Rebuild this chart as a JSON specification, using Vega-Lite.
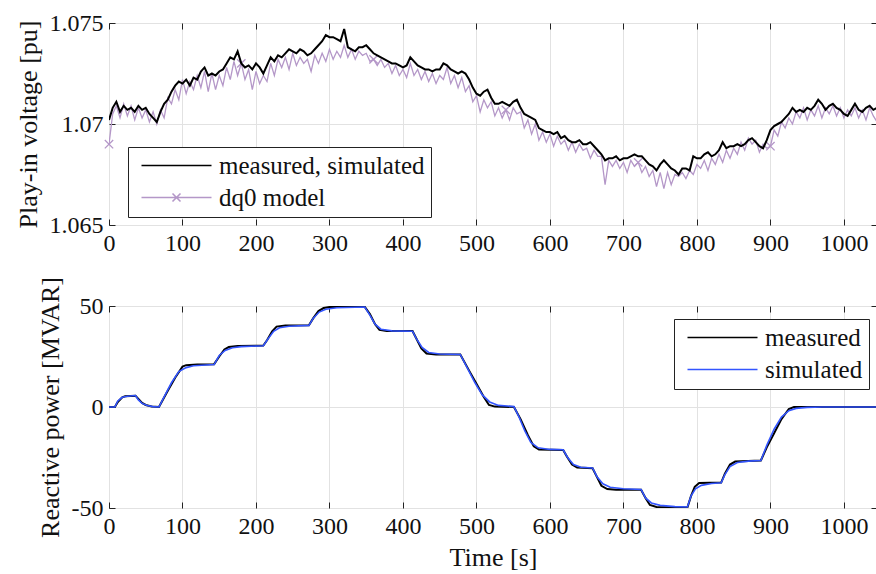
{
  "$schema": "https://vega.github.io/schema/vega-lite/v6.json",
  "background": "white",
  "padding": {"left": 14, "top": 10, "right": 0, "bottom": 4},
  "config": {
    "font": "Liberation Serif",
    "view": {"stroke": "#222222", "strokeWidth": 1},
    "axis": {
      "labelFont": "Liberation Serif", "titleFont": "Liberation Serif",
      "labelFontSize": 24, "titleFontSize": 26, "labelColor": "#111111", "titleColor": "#111111",
      "titleFontWeight": "normal", "domain": false, "gridColor": "#e2e2e2", "gridWidth": 1,
      "tickColor": "#222222", "tickSize": -6, "labelPadding": 12, "labelFlush": false, "labelOverlap": false, "titlePadding": 8
    },
    "legend": {
      "labelFont": "Liberation Serif", "labelFontSize": 25, "labelColor": "#111111", "labelLimit": 0,
      "strokeColor": "#222222", "fillColor": "white", "padding": 6, "cornerRadius": 0,
      "symbolSize": 100, "symbolStrokeWidth": 1.6, "labelOffset": 60, "rowPadding": 6
    }
  },
  "datasets": {
    "meas": [{"t":0,"v":1.0702},{"t":5,"v":1.0708},{"t":10,"v":1.0711},{"t":15,"v":1.0706},{"t":20,"v":1.0709},{"t":25,"v":1.0707},{"t":30,"v":1.0708},{"t":35,"v":1.0706},{"t":40,"v":1.0709},{"t":45,"v":1.0707},{"t":50,"v":1.0708},{"t":55,"v":1.0705},{"t":60,"v":1.0703},{"t":65,"v":1.0701},{"t":70,"v":1.0706},{"t":75,"v":1.071},{"t":80,"v":1.0712},{"t":85,"v":1.0716},{"t":90,"v":1.0719},{"t":95,"v":1.0721},{"t":100,"v":1.072},{"t":105,"v":1.0722},{"t":110,"v":1.0719},{"t":115,"v":1.0723},{"t":120,"v":1.0722},{"t":125,"v":1.0726},{"t":130,"v":1.0728},{"t":135,"v":1.0724},{"t":140,"v":1.0725},{"t":145,"v":1.0724},{"t":150,"v":1.0726},{"t":155,"v":1.0727},{"t":160,"v":1.073},{"t":165,"v":1.0733},{"t":170,"v":1.0732},{"t":175,"v":1.0736},{"t":180,"v":1.073},{"t":185,"v":1.0728},{"t":190,"v":1.0729},{"t":195,"v":1.0727},{"t":200,"v":1.073},{"t":205,"v":1.0728},{"t":210,"v":1.0725},{"t":215,"v":1.0729},{"t":220,"v":1.0733},{"t":225,"v":1.0731},{"t":230,"v":1.0734},{"t":235,"v":1.0733},{"t":240,"v":1.0735},{"t":245,"v":1.0737},{"t":250,"v":1.0736},{"t":255,"v":1.0735},{"t":260,"v":1.0737},{"t":265,"v":1.0736},{"t":270,"v":1.0734},{"t":275,"v":1.0735},{"t":280,"v":1.0737},{"t":285,"v":1.0739},{"t":290,"v":1.0741},{"t":295,"v":1.0744},{"t":300,"v":1.0743},{"t":305,"v":1.0743},{"t":310,"v":1.0742},{"t":315,"v":1.0741},{"t":320,"v":1.0747},{"t":325,"v":1.0738},{"t":330,"v":1.0737},{"t":335,"v":1.0736},{"t":340,"v":1.0738},{"t":345,"v":1.0738},{"t":350,"v":1.0739},{"t":355,"v":1.0737},{"t":360,"v":1.0735},{"t":365,"v":1.0734},{"t":370,"v":1.0733},{"t":375,"v":1.0732},{"t":380,"v":1.0731},{"t":385,"v":1.073},{"t":390,"v":1.073},{"t":395,"v":1.0729},{"t":400,"v":1.0728},{"t":405,"v":1.0729},{"t":410,"v":1.0733},{"t":415,"v":1.0731},{"t":420,"v":1.0729},{"t":425,"v":1.0728},{"t":430,"v":1.0727},{"t":435,"v":1.0727},{"t":440,"v":1.0726},{"t":445,"v":1.0727},{"t":450,"v":1.0727},{"t":455,"v":1.073},{"t":460,"v":1.0729},{"t":465,"v":1.0727},{"t":470,"v":1.0726},{"t":475,"v":1.0725},{"t":480,"v":1.0726},{"t":485,"v":1.0725},{"t":490,"v":1.0722},{"t":495,"v":1.0718},{"t":500,"v":1.0715},{"t":505,"v":1.0714},{"t":510,"v":1.0716},{"t":515,"v":1.0717},{"t":520,"v":1.0713},{"t":525,"v":1.071},{"t":530,"v":1.071},{"t":535,"v":1.0711},{"t":540,"v":1.071},{"t":545,"v":1.0709},{"t":550,"v":1.0711},{"t":555,"v":1.0712},{"t":560,"v":1.0708},{"t":565,"v":1.0705},{"t":570,"v":1.0704},{"t":575,"v":1.0703},{"t":580,"v":1.0702},{"t":585,"v":1.0698},{"t":590,"v":1.0697},{"t":595,"v":1.0696},{"t":600,"v":1.0696},{"t":605,"v":1.0695},{"t":610,"v":1.0696},{"t":615,"v":1.0693},{"t":620,"v":1.0694},{"t":625,"v":1.0692},{"t":630,"v":1.0691},{"t":635,"v":1.0691},{"t":640,"v":1.0692},{"t":645,"v":1.069},{"t":650,"v":1.069},{"t":655,"v":1.0691},{"t":660,"v":1.0689},{"t":665,"v":1.0687},{"t":670,"v":1.0685},{"t":675,"v":1.0682},{"t":680,"v":1.0683},{"t":685,"v":1.0683},{"t":690,"v":1.0684},{"t":695,"v":1.0682},{"t":700,"v":1.0683},{"t":705,"v":1.0683},{"t":710,"v":1.0684},{"t":715,"v":1.0685},{"t":720,"v":1.0684},{"t":725,"v":1.0684},{"t":730,"v":1.0682},{"t":735,"v":1.068},{"t":740,"v":1.0679},{"t":745,"v":1.0677},{"t":750,"v":1.068},{"t":755,"v":1.0682},{"t":760,"v":1.068},{"t":765,"v":1.0678},{"t":770,"v":1.0677},{"t":775,"v":1.0675},{"t":780,"v":1.0678},{"t":785,"v":1.0678},{"t":790,"v":1.0677},{"t":795,"v":1.0684},{"t":800,"v":1.0683},{"t":805,"v":1.0683},{"t":810,"v":1.0685},{"t":815,"v":1.0686},{"t":820,"v":1.0684},{"t":825,"v":1.0685},{"t":830,"v":1.0687},{"t":835,"v":1.0691},{"t":840,"v":1.0688},{"t":845,"v":1.0689},{"t":850,"v":1.0689},{"t":855,"v":1.069},{"t":860,"v":1.0689},{"t":865,"v":1.069},{"t":870,"v":1.0692},{"t":875,"v":1.0693},{"t":880,"v":1.0691},{"t":885,"v":1.0689},{"t":890,"v":1.0688},{"t":895,"v":1.0692},{"t":900,"v":1.0697},{"t":905,"v":1.0699},{"t":910,"v":1.07},{"t":915,"v":1.0701},{"t":920,"v":1.0703},{"t":925,"v":1.0705},{"t":930,"v":1.0708},{"t":935,"v":1.0706},{"t":940,"v":1.0707},{"t":945,"v":1.0706},{"t":950,"v":1.0708},{"t":955,"v":1.0707},{"t":960,"v":1.0709},{"t":965,"v":1.0712},{"t":970,"v":1.071},{"t":975,"v":1.0707},{"t":980,"v":1.0709},{"t":985,"v":1.071},{"t":990,"v":1.0708},{"t":995,"v":1.0707},{"t":1000,"v":1.0705},{"t":1005,"v":1.0704},{"t":1010,"v":1.0707},{"t":1015,"v":1.071},{"t":1020,"v":1.0707},{"t":1025,"v":1.0706},{"t":1030,"v":1.0708},{"t":1035,"v":1.0709},{"t":1040,"v":1.0707},{"t":1045,"v":1.0708}],
    "dq0": [{"t":0,"v":1.069},{"t":5,"v":1.0705},{"t":10,"v":1.0709},{"t":15,"v":1.0703},{"t":20,"v":1.071},{"t":25,"v":1.0704},{"t":30,"v":1.0709},{"t":35,"v":1.0702},{"t":40,"v":1.0708},{"t":45,"v":1.0703},{"t":50,"v":1.0707},{"t":55,"v":1.0701},{"t":60,"v":1.0706},{"t":65,"v":1.07},{"t":70,"v":1.0707},{"t":75,"v":1.0703},{"t":80,"v":1.0713},{"t":85,"v":1.071},{"t":90,"v":1.0717},{"t":95,"v":1.0712},{"t":100,"v":1.0722},{"t":105,"v":1.0715},{"t":110,"v":1.0721},{"t":115,"v":1.0717},{"t":120,"v":1.0724},{"t":125,"v":1.0718},{"t":130,"v":1.0726},{"t":135,"v":1.0716},{"t":140,"v":1.0725},{"t":145,"v":1.0717},{"t":150,"v":1.0724},{"t":155,"v":1.0719},{"t":160,"v":1.0728},{"t":165,"v":1.0722},{"t":170,"v":1.0731},{"t":175,"v":1.0724},{"t":180,"v":1.073},{"t":185,"v":1.0722},{"t":190,"v":1.0727},{"t":195,"v":1.0717},{"t":200,"v":1.0726},{"t":205,"v":1.072},{"t":210,"v":1.0724},{"t":215,"v":1.0721},{"t":220,"v":1.073},{"t":225,"v":1.0724},{"t":230,"v":1.0732},{"t":235,"v":1.0728},{"t":240,"v":1.0733},{"t":245,"v":1.0727},{"t":250,"v":1.0735},{"t":255,"v":1.0729},{"t":260,"v":1.0733},{"t":265,"v":1.073},{"t":270,"v":1.0732},{"t":275,"v":1.0726},{"t":280,"v":1.0734},{"t":285,"v":1.073},{"t":290,"v":1.0735},{"t":295,"v":1.0731},{"t":300,"v":1.0737},{"t":305,"v":1.0732},{"t":310,"v":1.0736},{"t":315,"v":1.0733},{"t":320,"v":1.0739},{"t":325,"v":1.0733},{"t":330,"v":1.0737},{"t":335,"v":1.0732},{"t":340,"v":1.0736},{"t":345,"v":1.0734},{"t":350,"v":1.0735},{"t":355,"v":1.0731},{"t":360,"v":1.0732},{"t":365,"v":1.0729},{"t":370,"v":1.0732},{"t":375,"v":1.0728},{"t":380,"v":1.073},{"t":385,"v":1.0725},{"t":390,"v":1.0729},{"t":395,"v":1.0724},{"t":400,"v":1.0727},{"t":405,"v":1.0723},{"t":410,"v":1.073},{"t":415,"v":1.0724},{"t":420,"v":1.0727},{"t":425,"v":1.0722},{"t":430,"v":1.0726},{"t":435,"v":1.0721},{"t":440,"v":1.0725},{"t":445,"v":1.072},{"t":450,"v":1.0724},{"t":455,"v":1.0722},{"t":460,"v":1.0728},{"t":465,"v":1.072},{"t":470,"v":1.0724},{"t":475,"v":1.0718},{"t":480,"v":1.0723},{"t":485,"v":1.0716},{"t":490,"v":1.0719},{"t":495,"v":1.0711},{"t":500,"v":1.0714},{"t":505,"v":1.0706},{"t":510,"v":1.0712},{"t":515,"v":1.0708},{"t":520,"v":1.0711},{"t":525,"v":1.0704},{"t":530,"v":1.0708},{"t":535,"v":1.0703},{"t":540,"v":1.0707},{"t":545,"v":1.0702},{"t":550,"v":1.0708},{"t":555,"v":1.0705},{"t":560,"v":1.0706},{"t":565,"v":1.0698},{"t":570,"v":1.0702},{"t":575,"v":1.0695},{"t":580,"v":1.07},{"t":585,"v":1.0692},{"t":590,"v":1.0696},{"t":595,"v":1.0691},{"t":600,"v":1.0695},{"t":605,"v":1.0689},{"t":610,"v":1.0694},{"t":615,"v":1.069},{"t":620,"v":1.0692},{"t":625,"v":1.0687},{"t":630,"v":1.0691},{"t":635,"v":1.0686},{"t":640,"v":1.069},{"t":645,"v":1.0687},{"t":650,"v":1.0688},{"t":655,"v":1.0683},{"t":660,"v":1.0687},{"t":665,"v":1.0684},{"t":670,"v":1.0684},{"t":675,"v":1.067},{"t":680,"v":1.0682},{"t":685,"v":1.0679},{"t":690,"v":1.0682},{"t":695,"v":1.0678},{"t":700,"v":1.0681},{"t":705,"v":1.0676},{"t":710,"v":1.0682},{"t":715,"v":1.0679},{"t":720,"v":1.0681},{"t":725,"v":1.0676},{"t":730,"v":1.0679},{"t":735,"v":1.0674},{"t":740,"v":1.0677},{"t":745,"v":1.0669},{"t":750,"v":1.0676},{"t":755,"v":1.0668},{"t":760,"v":1.0676},{"t":765,"v":1.067},{"t":770,"v":1.0675},{"t":775,"v":1.0674},{"t":780,"v":1.0676},{"t":785,"v":1.0673},{"t":790,"v":1.0677},{"t":795,"v":1.0675},{"t":800,"v":1.068},{"t":805,"v":1.0678},{"t":810,"v":1.0682},{"t":815,"v":1.0677},{"t":820,"v":1.0683},{"t":825,"v":1.068},{"t":830,"v":1.0685},{"t":835,"v":1.0681},{"t":840,"v":1.0687},{"t":845,"v":1.0683},{"t":850,"v":1.0688},{"t":855,"v":1.0685},{"t":860,"v":1.0691},{"t":865,"v":1.0687},{"t":870,"v":1.0693},{"t":875,"v":1.069},{"t":880,"v":1.0692},{"t":885,"v":1.0686},{"t":890,"v":1.069},{"t":895,"v":1.0688},{"t":900,"v":1.0689},{"t":905,"v":1.0697},{"t":910,"v":1.0694},{"t":915,"v":1.0701},{"t":920,"v":1.0698},{"t":925,"v":1.0703},{"t":930,"v":1.07},{"t":935,"v":1.0706},{"t":940,"v":1.0703},{"t":945,"v":1.0708},{"t":950,"v":1.0702},{"t":955,"v":1.0707},{"t":960,"v":1.0704},{"t":965,"v":1.0709},{"t":970,"v":1.0703},{"t":975,"v":1.0708},{"t":980,"v":1.0705},{"t":985,"v":1.0709},{"t":990,"v":1.0704},{"t":995,"v":1.0708},{"t":1000,"v":1.0703},{"t":1005,"v":1.0707},{"t":1010,"v":1.0704},{"t":1015,"v":1.0708},{"t":1020,"v":1.0703},{"t":1025,"v":1.0707},{"t":1030,"v":1.0702},{"t":1035,"v":1.0708},{"t":1040,"v":1.0704},{"t":1045,"v":1.0701}],
    "mk": [{"t":0,"v":1.069},{"t":180,"v":1.073},{"t":360,"v":1.0732},{"t":540,"v":1.0707},{"t":720,"v":1.0681},{"t":900,"v":1.0689}],
    "qm": [{"t":0,"q":0},{"t":8,"q":0},{"t":12,"q":2.5},{"t":18,"q":4.8},{"t":22,"q":5.3},{"t":36,"q":5.6},{"t":40,"q":4},{"t":45,"q":2},{"t":50,"q":1},{"t":58,"q":0.3},{"t":68,"q":0},{"t":80,"q":8},{"t":90,"q":14.5},{"t":100,"q":20},{"t":105,"q":20.7},{"t":120,"q":21},{"t":143,"q":21.2},{"t":150,"q":25},{"t":157,"q":28.5},{"t":163,"q":29.7},{"t":175,"q":30.2},{"t":210,"q":30.4},{"t":215,"q":33},{"t":222,"q":37.5},{"t":228,"q":39.8},{"t":240,"q":40.3},{"t":272,"q":40.5},{"t":278,"q":44},{"t":285,"q":47.5},{"t":292,"q":49},{"t":300,"q":49.5},{"t":348,"q":49.6},{"t":355,"q":46},{"t":362,"q":41},{"t":368,"q":38.2},{"t":378,"q":37.6},{"t":413,"q":37.6},{"t":418,"q":34},{"t":425,"q":29},{"t":432,"q":26.5},{"t":445,"q":26},{"t":478,"q":26},{"t":490,"q":18},{"t":500,"q":11.5},{"t":510,"q":5},{"t":517,"q":1},{"t":525,"q":0.2},{"t":551,"q":0},{"t":560,"q":-6},{"t":570,"q":-14},{"t":578,"q":-19.5},{"t":585,"q":-21},{"t":618,"q":-21.3},{"t":623,"q":-24.5},{"t":630,"q":-28.5},{"t":637,"q":-30},{"t":658,"q":-30.3},{"t":663,"q":-34},{"t":670,"q":-39},{"t":678,"q":-40.6},{"t":690,"q":-41},{"t":724,"q":-41},{"t":730,"q":-45},{"t":736,"q":-48.5},{"t":745,"q":-49.5},{"t":787,"q":-49.8},{"t":792,"q":-44},{"t":797,"q":-39.5},{"t":803,"q":-37.6},{"t":833,"q":-37.4},{"t":838,"q":-33},{"t":845,"q":-28.5},{"t":852,"q":-27},{"t":887,"q":-26.5},{"t":895,"q":-20},{"t":905,"q":-13},{"t":915,"q":-6},{"t":925,"q":-1},{"t":932,"q":0},{"t":1045,"q":0}],
    "qs": [{"t":0,"q":0},{"t":8,"q":0},{"t":12,"q":3},{"t":18,"q":4.8},{"t":25,"q":5.3},{"t":36,"q":5.7},{"t":40,"q":3.5},{"t":45,"q":1.8},{"t":52,"q":0.7},{"t":60,"q":0.2},{"t":68,"q":0},{"t":75,"q":5},{"t":85,"q":12},{"t":95,"q":17.5},{"t":105,"q":19.5},{"t":115,"q":20.4},{"t":143,"q":21},{"t":150,"q":25.5},{"t":158,"q":28},{"t":168,"q":29.3},{"t":180,"q":29.9},{"t":210,"q":30.3},{"t":216,"q":33.5},{"t":224,"q":37.5},{"t":232,"q":39.2},{"t":245,"q":40},{"t":272,"q":40.4},{"t":278,"q":44},{"t":286,"q":47},{"t":295,"q":48.4},{"t":310,"q":49.1},{"t":348,"q":49.5},{"t":355,"q":45.5},{"t":362,"q":41},{"t":370,"q":38.5},{"t":385,"q":37.7},{"t":413,"q":37.5},{"t":418,"q":34},{"t":426,"q":29.5},{"t":435,"q":27},{"t":450,"q":26.2},{"t":478,"q":26},{"t":488,"q":19},{"t":498,"q":12},{"t":508,"q":6},{"t":518,"q":2.5},{"t":530,"q":0.8},{"t":551,"q":0.2},{"t":558,"q":-5},{"t":566,"q":-12},{"t":574,"q":-17.5},{"t":584,"q":-20.2},{"t":600,"q":-21},{"t":618,"q":-21.2},{"t":624,"q":-25},{"t":632,"q":-28.5},{"t":642,"q":-29.8},{"t":658,"q":-30.2},{"t":664,"q":-34.5},{"t":672,"q":-38},{"t":682,"q":-39.7},{"t":700,"q":-40.5},{"t":724,"q":-40.8},{"t":730,"q":-45},{"t":738,"q":-47.5},{"t":750,"q":-48.7},{"t":770,"q":-49.3},{"t":787,"q":-49.5},{"t":792,"q":-44},{"t":798,"q":-40.5},{"t":806,"q":-38.8},{"t":820,"q":-37.9},{"t":833,"q":-37.5},{"t":838,"q":-33.5},{"t":845,"q":-29.5},{"t":855,"q":-27.5},{"t":870,"q":-26.8},{"t":887,"q":-26.5},{"t":895,"q":-19},{"t":905,"q":-11},{"t":915,"q":-5},{"t":925,"q":-1.8},{"t":935,"q":-0.7},{"t":950,"q":-0.2},{"t":970,"q":0},{"t":1045,"q":0}]
  },
  "resolve": {"scale": {"color": "independent"}, "legend": {"color": "independent"}},
  "spacing": 20,
  "vconcat": [
    {
      "width": 768,
      "height": 202,
      "layer": [
        {
          "data": {"name": "dq0"},
          "mark": {"type": "line", "strokeWidth": 1.3, "clip": true},
          "encoding": {
            "x": {"field": "t", "type": "quantitative", "scale": {"domain": [0, 1045], "nice": false},
                  "axis": {"values": [0,100,200,300,400,500,600,700,800,900,1000], "format": "d", "title": null, "grid": true}},
            "y": {"field": "v", "type": "quantitative", "scale": {"domain": [1.065, 1.075], "nice": false, "zero": false},
                  "axis": {"values": [1.065, 1.07, 1.075], "format": ".4~f", "title": "Play-in voltage [pu]", "grid": true}},
            "color": {"datum": "dq0 model", "type": "nominal",
                      "scale": {"domain": ["measured, simulated", "dq0 model"], "range": ["#000000", "#b497c8"]},
                      "legend": {"orient": "none", "legendX": 19, "legendY": 124, "title": null,
                                 "encode": {"symbols": {"update": {
                                   "shape": {"signal": "datum.value === 'dq0 model' ? 'M-1,0H13M5.2,-0.8L6.8,0.8M5.2,0.8L6.8,-0.8' : 'M-1,0H13'"},
                                   "fill": {"value": "transparent"}}}}}}
          }
        },
        {
          "data": {"name": "mk"},
          "mark": {"type": "point", "shape": "M-1,-1L1,1M-1,1L1,-1", "filled": false, "size": 70, "strokeWidth": 1.3, "opacity": 1},
          "encoding": {
            "x": {"field": "t", "type": "quantitative", "axis": null},
            "y": {"field": "v", "type": "quantitative", "axis": null},
            "color": {"datum": "dq0 model", "type": "nominal"}
          }
        },
        {
          "data": {"name": "meas"},
          "mark": {"type": "line", "strokeWidth": 2, "clip": true},
          "encoding": {
            "x": {"field": "t", "type": "quantitative",
                  "axis": {"orient": "top", "values": [0,100,200,300,400,500,600,700,800,900,1000], "labels": false, "grid": false, "title": null}},
            "y": {"field": "v", "type": "quantitative",
                  "axis": {"orient": "right", "values": [1.065, 1.07, 1.075], "labels": false, "grid": false, "title": null}},
            "color": {"datum": "measured, simulated", "type": "nominal"}
          }
        }
      ],
      "resolve": {"axis": {"x": "independent", "y": "independent"}}
    },
    {
      "width": 768,
      "height": 202,
      "layer": [
        {
          "data": {"name": "qm"},
          "mark": {"type": "line", "strokeWidth": 2, "clip": true},
          "encoding": {
            "x": {"field": "t", "type": "quantitative", "scale": {"domain": [0, 1045], "nice": false},
                  "axis": {"values": [0,100,200,300,400,500,600,700,800,900,1000], "format": "d", "title": "Time [s]", "grid": true, "titlePadding": 6}},
            "y": {"field": "q", "type": "quantitative", "scale": {"domain": [-50, 50], "nice": false},
                  "axis": {"values": [-50, 0, 50], "labelExpr": "'' + datum.value", "title": "Reactive power [MVAR]", "grid": true}},
            "color": {"datum": "measured", "type": "nominal",
                      "scale": {"domain": ["measured", "simulated"], "range": ["#000000", "#3355ff"]},
                      "legend": {"orient": "none", "legendX": 565, "legendY": 13, "title": null, "symbolType": "M-1,0H13"}}
          }
        },
        {
          "data": {"name": "qs"},
          "mark": {"type": "line", "strokeWidth": 1.6, "clip": true},
          "encoding": {
            "x": {"field": "t", "type": "quantitative",
                  "axis": {"orient": "top", "values": [0,100,200,300,400,500,600,700,800,900,1000], "labels": false, "grid": false, "title": null}},
            "y": {"field": "q", "type": "quantitative",
                  "axis": {"orient": "right", "values": [-50, 0, 50], "labels": false, "grid": false, "title": null}},
            "color": {"datum": "simulated", "type": "nominal"}
          }
        }
      ],
      "resolve": {"axis": {"x": "independent", "y": "independent"}}
    }
  ]
}
